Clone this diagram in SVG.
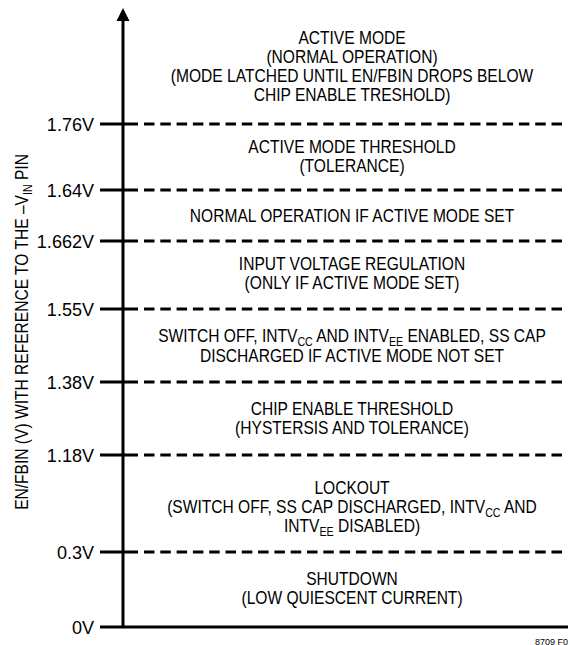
<svg xmlns="http://www.w3.org/2000/svg" width="570" height="645" viewBox="0 0 570 645">
<style>
text{font-family:"Liberation Sans",Arial,sans-serif;fill:#000}
.t{font-size:19px;text-anchor:middle}
.lbl{font-size:19px;text-anchor:end}
.sub{font-size:13px}
.ax{stroke:#000;stroke-width:3;fill:none}
.dash{stroke:#000;stroke-width:3;fill:none;stroke-dasharray:10.5 5.8}
</style>
<rect width="570" height="645" fill="#fff"/>
<g id="connectors">
<line class="ax" x1="123" y1="19" x2="123" y2="628"/>
<polygon points="123,8 116.5,21 129.5,21" fill="#000"/>
<line class="ax" x1="100" y1="627" x2="568" y2="627"/>
<line class="ax" x1="100" y1="124" x2="138" y2="124"/><line class="dash" x1="144" y1="124" x2="566" y2="124"/>
<line class="ax" x1="100" y1="190" x2="138" y2="190"/><line class="dash" x1="144" y1="190" x2="566" y2="190"/>
<line class="ax" x1="100" y1="241" x2="138" y2="241"/><line class="dash" x1="144" y1="241" x2="566" y2="241"/>
<line class="ax" x1="100" y1="309" x2="138" y2="309"/><line class="dash" x1="144" y1="309" x2="566" y2="309"/>
<line class="ax" x1="100" y1="382" x2="138" y2="382"/><line class="dash" x1="144" y1="382" x2="566" y2="382"/>
<line class="ax" x1="100" y1="455" x2="138" y2="455"/><line class="dash" x1="144" y1="455" x2="566" y2="455"/>
<line class="ax" x1="100" y1="552" x2="138" y2="552"/><line class="dash" x1="144" y1="552" x2="566" y2="552"/>
</g>
<g id="axis-labels" transform="translate(94 0) scale(0.95 1)">
<text class="lbl" x="0" y="131">1.76V</text>
<text class="lbl" x="0" y="197">1.64V</text>
<text class="lbl" x="0" y="248">1.662V</text>
<text class="lbl" x="0" y="316">1.55V</text>
<text class="lbl" x="0" y="389">1.38V</text>
<text class="lbl" x="0" y="462">1.18V</text>
<text class="lbl" x="0" y="559">0.3V</text>
<text class="lbl" x="0" y="634">0V</text>
</g>
<g id="y-title" transform="translate(28 332) rotate(-90) scale(0.82 1)">
<text x="0" y="0" style="font-size:19px;text-anchor:middle">EN/FBIN (V) WITH REFERENCE TO THE –V<tspan class="sub" dy="4">IN</tspan><tspan dy="-4"> PIN</tspan></text>
</g>
<g id="active-mode" transform="translate(352 0) scale(0.82 1)">
<text class="t" x="0" y="44">ACTIVE MODE</text>
<text class="t" x="0" y="63">(NORMAL OPERATION)</text>
<text class="t" x="0" y="82">(MODE LATCHED UNTIL EN/FBIN DROPS BELOW</text>
<text class="t" x="0" y="101">CHIP ENABLE TRESHOLD)</text>
</g>
<g id="active-threshold" transform="translate(352 0) scale(0.82 1)">
<text class="t" x="0" y="153">ACTIVE MODE THRESHOLD</text>
<text class="t" x="0" y="172">(TOLERANCE)</text>
</g>
<g id="normal-op" transform="translate(352 0) scale(0.82 1)">
<text class="t" x="0" y="222">NORMAL OPERATION IF ACTIVE MODE SET</text>
</g>
<g id="input-reg" transform="translate(352 0) scale(0.82 1)">
<text class="t" x="0" y="270">INPUT VOLTAGE REGULATION</text>
<text class="t" x="0" y="289">(ONLY IF ACTIVE MODE SET)</text>
</g>
<g id="switch-off" transform="translate(352 0) scale(0.82 1)">
<text class="t" x="0" y="342">SWITCH OFF, INTV<tspan class="sub" dy="4">CC</tspan><tspan dy="-4"> AND INTV</tspan><tspan class="sub" dy="4">EE</tspan><tspan dy="-4"> ENABLED, SS CAP</tspan></text>
<text class="t" x="0" y="362">DISCHARGED IF ACTIVE MODE NOT SET</text>
</g>
<g id="chip-enable" transform="translate(352 0) scale(0.82 1)">
<text class="t" x="0" y="415">CHIP ENABLE THRESHOLD</text>
<text class="t" x="0" y="434">(HYSTERSIS AND TOLERANCE)</text>
</g>
<g id="lockout" transform="translate(352 0) scale(0.82 1)">
<text class="t" x="0" y="494">LOCKOUT</text>
<text class="t" x="0" y="513">(SWITCH OFF, SS CAP DISCHARGED, INTV<tspan class="sub" dy="4">CC</tspan><tspan dy="-4"> AND</tspan></text>
<text class="t" x="0" y="532">INTV<tspan class="sub" dy="4">EE</tspan><tspan dy="-4"> DISABLED)</tspan></text>
</g>
<g id="shutdown" transform="translate(352 0) scale(0.82 1)">
<text class="t" x="0" y="585">SHUTDOWN</text>
<text class="t" x="0" y="604">(LOW QUIESCENT CURRENT)</text>
</g>
<text x="568" y="645" style="font-size:9px;text-anchor:end">8709 F0</text>
</svg>
